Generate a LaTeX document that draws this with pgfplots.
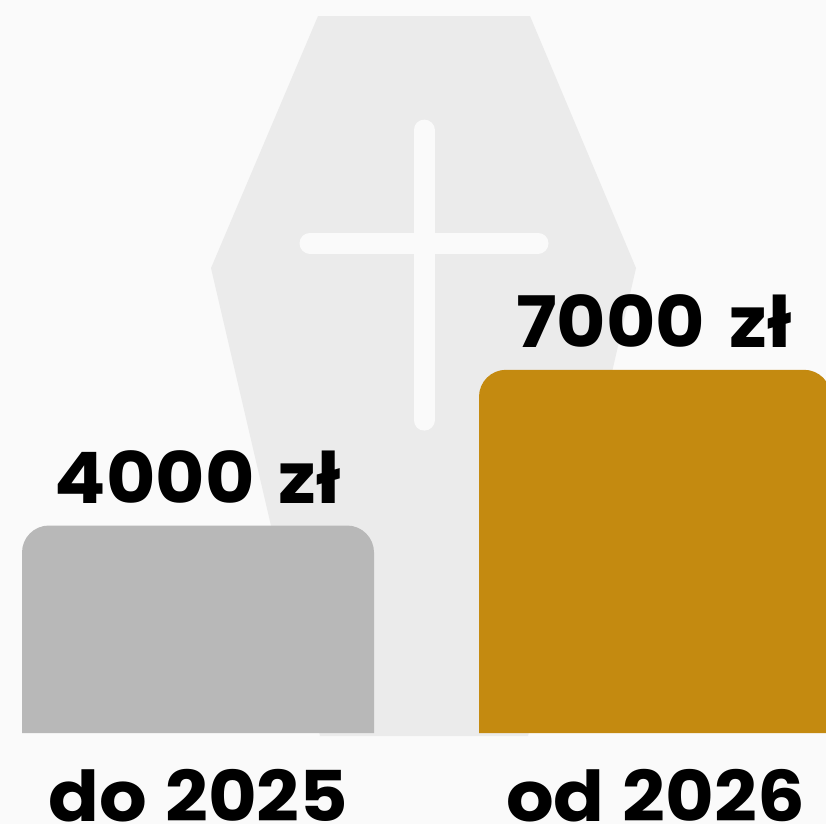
\documentclass[border=0pt]{standalone}
\usepackage{fontspec}
\setmainfont{Poppins}[FakeStretch=1.07, WordSpace=1.5]
\newfontfamily\tickfam{Poppins}[FakeStretch=1.07, WordSpace=1.15]
\usepackage{pgfplots}
\pgfplotsset{compat=1.18}
\definecolor{bgc}{HTML}{FAFAFA}
\definecolor{coffin}{HTML}{EBEBEB}
\definecolor{barold}{HTML}{B8B8B8}
\definecolor{barnew}{HTML}{C48A10}
\newcommand{\bigfont}{\fontsize{71}{75}\selectfont\bfseries}
\newcommand{\tickfont}{\tickfam\fontsize{70}{74}\selectfont\bfseries}
\begin{document}
\begin{tikzpicture}
\begin{axis}[
  scale only axis, width=826pt, height=824pt,
  xmin=0, xmax=826, ymin=-1753, ymax=14123,
  axis background/.style={fill=bgc},
  axis line style={draw=none},
  major tick length=0pt,
  ytick=\empty,
  xtick={198.5,655.5},
  xticklabels={do 2025,od 2026},
  xticklabel style={font=\tickfont, anchor=base, yshift=3pt, inner sep=0pt, outer sep=0pt},
]
% coffin silhouette
\addplot[fill=coffin, draw=none] coordinates {(318,13815)(530,13815)(636,8960)(528,-58)(320,-58)(211,8960)} -- cycle;
% cross
\addplot[bgc, line width=21pt, line cap=round] coordinates {(424,11618)(424,6031)};
\addplot[bgc, line width=21pt, line cap=round] coordinates {(310,9441)(538,9441)};
% bars
\addplot[fill=barold, draw=none, rounded corners=27pt] coordinates {(22,0)(22,4000)(374,4000)(374,0)};
\addplot[fill=barnew, draw=none, rounded corners=27pt] coordinates {(479,0)(479,7000)(831,7000)(831,0)};
% value labels
\addplot[draw=none, mark=none, point meta=explicit symbolic,
  nodes near coords, nodes near coords style={font=\bigfont, text=black, anchor=base, yshift=22pt, inner sep=0pt}]
  coordinates {(198,4000)[4000 zł] (654,7000)[7000 zł]};
\end{axis}
\end{tikzpicture}
\end{document}
